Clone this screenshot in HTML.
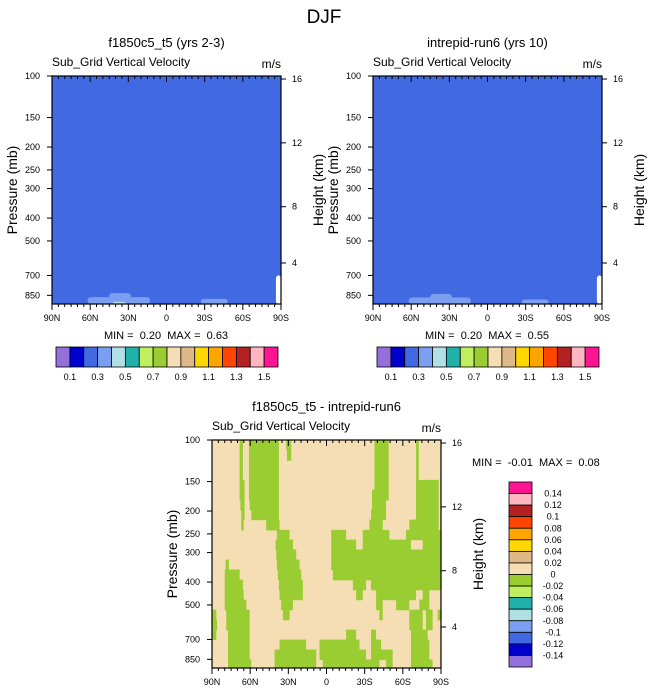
<!DOCTYPE html>
<html><head><meta charset="utf-8"><style>
html,body{margin:0;padding:0;background:#fff}
svg{display:block;font-family:"Liberation Sans",sans-serif}
.pre{white-space:pre}
</style></head><body>
<svg id="s" width="648" height="694" viewBox="0 0 648 694">
<text x="324" y="23" font-size="19" text-anchor="middle">DJF</text>
</svg>
<script>
// ---------- data ----------
const levelTicks = [100,150,200,250,300,400,500,700,850];
const heightTicks = [16,12,8,4];
const heightTickPressures = [103,192,358,620];
const latTicks = ["90N","60N","30N","0","30S","60S","90S"];
const palette = ["#9370db","#0000cd","#4169e1","#7b9ef0","#b0e0e6","#20b2aa","#bfef5f","#9acd32","#f5deb3","#deb887","#ffd700","#ffa500","#ff4500","#b22222","#ffb6c1","#ff1493"];
const topLabels = ["0.1","0.3","0.5","0.7","0.9","1.1","1.3","1.5"];
const diffLabels = ["0.14","0.12","0.1","0.08","0.06","0.04","0.02","0","-0.02","-0.04","-0.06","-0.08","-0.1","-0.12","-0.14"];
// top panel patches: [lat1, lat2, topPressure, colorIndex]
const leftPatches = [[62,13,865,3],[45,28,832,3],[42,32,905,4],[-27,-48,880,3],[-86,-90,700,-1]];
const rightPatches = [[62,13,868,3],[45,28,838,3],[-27,-48,885,3],[-86,-90,700,-1]];
const leftStats = ["0.20","0.63"];
const rightStats = ["0.20","0.55"];
const diffStats = ["-0.01","0.08"];
// difference field: level edges (mb) and green (-0.02 class) latitude intervals per band
const levEdges = [100,110,122,134,148,163,180,198,218,241,265,292,322,355,392,432,476,525,579,638,703,775,854,925];
const greenBands = [
 [[68.3,65.7],[61,37.4],[31.7,27.7],[-37.7,-48.9],[-70.4,-72.5]],
 [[68.3,65.7],[61,37.4],[31.1,27.7],[-37.7,-48.9],[-70.4,-72.5]],
 [[68.3,65.7],[61,37.4],[-37.7,-48.9],[-70.4,-72.5]],
 [[68.3,65.7],[61,37.4],[-37.7,-48.9],[-70.4,-72.5]],
 [[68.3,64.4],[61,37.4],[-37.7,-48.9],[-70.4,-88.2]],
 [[68.3,64.4],[61,37.4],[-35.8,-48.9],[-70.4,-88.2]],
 [[67.7,64.4],[60.4,37.4],[-35.8,-46.8],[-70.4,-88.2]],
 [[67,64.4],[59.1,37.4],[-35,-46.8],[-70.4,-88.2]],
 [[67,65.1],[47.4,36.9],[-33.7,-44.2],[-65.1,-88.2]],
 [[39,29],[-3.7,-15.4],[-28.5,-49.4],[-62.5,-90]],
 [[40,26.4],[-3.7,-23.3],[-28.5,-66.4],[-75.6,-90]],
 [[39.5,23.8],[-3.7,-90]],
 [[79.3,76.7],[39,21.2],[-3.7,-90]],
 [[80,68.3],[38.2,19.9],[-5,-90]],
 [[80,65.7],[37.4,18.6],[-20.7,-31.1],[-35,-90]],
 [[80,65.1],[36.9,18.6],[-23.3,-28.5],[-39,-70.4],[-75.6,-80.8]],
 [[80,63],[35.6,26.4],[-39,-44.2],[-54.7,-65.1],[-73,-80.8]],
 [[90,86.6],[78.8,60.4],[34.3,29],[-41.6,-44.2],[-65.1,-75.6],[-78.2,-83.4],[-87.4,-90]],
 [[90,86],[78.8,60.4],[-65.1,-75.6],[-78.2,-83.4]],
 [[90,86.6],[77.4,60.4],[-15.4,-23.3],[-35,-39],[-66.4,-79.5]],
 [[77.4,60.4],[36.9,16],[5.5,-25.9],[-35,-42.9],[-66.4,-80.8]],
 [[77.4,60.4],[40.8,8.1],[5.5,-31.1],[-35,-52],[-66.4,-80.8]],
 [[77.4,59.1],[40.8,8.1],[2.9,-41.6],[-46.8,-52],[-66.4,-83.4]]
];
// ---------- drawing ----------
const svg = document.getElementById('s');
const NS = 'http://www.w3.org/2000/svg';
function el(tag, attrs, parent){const e=document.createElementNS(NS,tag);for(const k in attrs)e.setAttribute(k,attrs[k]);(parent||svg).appendChild(e);return e;}
const W=229,H=228,PBOT=925;
function yOf(p){return H*Math.log10(p/100)/Math.log10(PBOT/100);}
function xOf(lat){return (90-lat)/180*W;}

function drawPanel(ox,oy,name,title,bg,drawField){
  const g=el('g',{transform:`translate(${ox},${oy})`});
  
  
  const t=el('text',{x:W/2,y:-29,'font-size':13,'text-anchor':'middle'},g);t.textContent=title;
  
  const st=el('text',{x:0,y:-10,'font-size':12},g);st.textContent='Sub_Grid Vertical Velocity';
  
  const u=el('text',{x:W,y:-8,'font-size':12,'text-anchor':'end'},g);u.textContent='m/s';
  
  const r=el('rect',{x:0,y:0,width:W,height:H,fill:bg},g);
  
  drawField(g);
  const fr=el('rect',{x:0,y:0,width:W,height:H,fill:'none',stroke:'#000','stroke-width':1.2},g);
  
  levelTicks.forEach(p=>{
    const y=yOf(p);
    el('line',{x1:-5,x2:0,y1:y,y2:y,stroke:'#000'},g);
    const l=el('text',{x:-12,y:y+3,'font-size':9,'text-anchor':'end'},g);l.textContent=p;
    
  });
  heightTicks.forEach((h,i)=>{
    const y=yOf(heightTickPressures[i]);
    el('line',{x1:W,x2:W+5,y1:y,y2:y,stroke:'#000'},g);
    const l=el('text',{x:W+11,y:y+3,'font-size':9},g);l.textContent=h;
    
  });
  for(let lat=90;lat>=-90;lat-=5){
    const x=xOf(lat),maj=lat%30===0;
    el('line',{x1:x,x2:x,y1:H,y2:H+(maj?6:3),stroke:'#000'},g);
    el('line',{x1:x,x2:x,y1:0,y2:maj?6:3,stroke:'#000'},g);
  }
  latTicks.forEach((s,i)=>{
    const l=el('text',{x:i*W/6,y:H+17,'font-size':9,'text-anchor':'middle'},g);l.textContent=s;
    
  });
  const yl=el('text',{x:0,y:0,'font-size':14,'text-anchor':'middle',transform:`translate(-35,${H/2}) rotate(-90)`},g);yl.textContent='Pressure (mb)';
  
  const hl=el('text',{x:0,y:0,'font-size':14,'text-anchor':'middle',transform:`translate(${W+42},${H/2}) rotate(-90)`},g);hl.textContent='Height (km)';
  
  return g;
}
function patchesField(patches){
  return g=>patches.forEach(pt=>{
    const x1=xOf(pt[0]),x2=xOf(pt[1]),y=yOf(pt[2]);
    const r=el('rect',{x:x1,y:y,width:x2-x1,height:H-y,fill:pt[3]<0?'#fff':palette[pt[3]],rx:3},g);
    
  });
}
function topColorbar(ox,oy,name){
  const bw=222/16;
  palette.forEach((c,i)=>{
    const r=el('rect',{x:ox+i*bw,y:oy,width:bw,height:20,fill:c,stroke:'#000','stroke-width':0.8});
    
  });
  topLabels.forEach((s,i)=>{
    const l=el('text',{x:ox+(1+2*i)*bw,y:oy+33,'font-size':9,'text-anchor':'middle'});l.textContent=s;
    
  });
}
function stats(x,y,v,anchor){
  const t=el('text',{x:x,y:y,'font-size':11,'text-anchor':anchor,'class':'pre'});
  t.textContent='MIN =  '+v[0]+'  MAX =  '+v[1];
  
}
// top left
drawPanel(52,76,'panel-model-a','f1850c5_t5 (yrs 2-3)',palette[2],patchesField(leftPatches));
stats(166,339,leftStats,'middle');
topColorbar(56,347,'colorbar-left');
// top right
drawPanel(373,76,'panel-model-b','intrepid-run6 (yrs 10)',palette[2],patchesField(rightPatches));
stats(487,339,rightStats,'middle');
topColorbar(377,347,'colorbar-right');
// difference
drawPanel(212,440,'panel-difference','f1850c5_t5 - intrepid-run6',palette[8],g=>{
  greenBands.forEach((band,i)=>{
    const y1=yOf(levEdges[i]),y2=yOf(levEdges[i+1]);
    band.forEach(seg=>{
      const x1=xOf(seg[0]),x2=xOf(seg[1]);
      const r=el('rect',{x:x1,y:y1-0.3,width:x2-x1,height:y2-y1+0.6,fill:palette[7]},g);
      
    });
  });
});
stats(472,466,diffStats,'start');
(function(){
  const ox=509,oy=482,bh=185/16;
  palette.slice().reverse().forEach((c,i)=>{
    const r=el('rect',{x:ox,y:oy+i*bh,width:23,height:bh,fill:c,stroke:'#000','stroke-width':0.8});
    
  });
  diffLabels.forEach((s,i)=>{
    const l=el('text',{x:ox+44,y:oy+(i+1)*bh+3,'font-size':9,'text-anchor':'middle'});l.textContent=s;
    
  });
})();
</script>
</body></html>
